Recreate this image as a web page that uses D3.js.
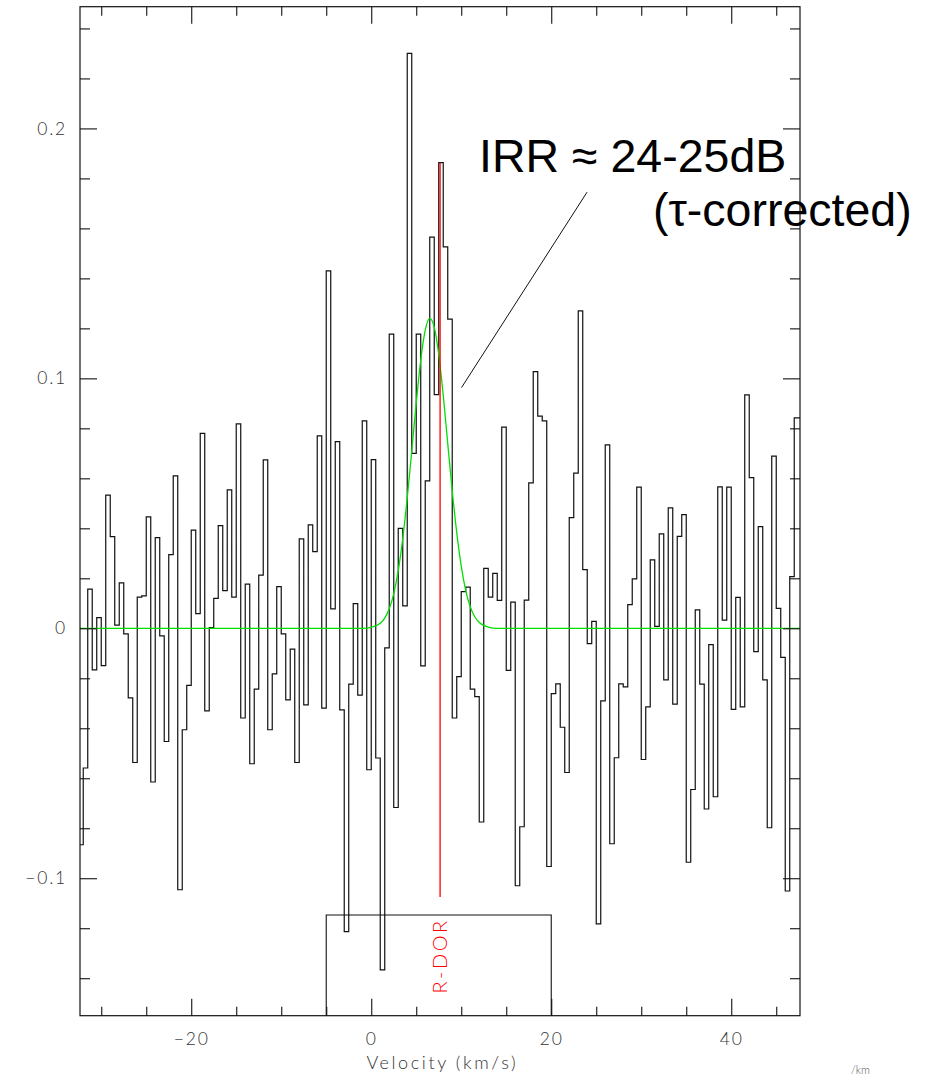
<!DOCTYPE html>
<meta charset="utf-8">
<style type="text/css">
body { margin: 0; background: #fff; }

/* spectrum drawn as a step line */
.hist { fill: none; stroke: #111; stroke-width: 1.2; }
/* gaussian fit */
.fit { fill: none; stroke: #00e000; stroke-width: 1.3; }
.marker { stroke: #ff0000; stroke-width: 1.3; }
.window { fill: none; stroke: #111; stroke-width: 1.1; }
.frame { fill: none; stroke: #111; stroke-width: 1.2; }
.pointer { stroke: #111; stroke-width: 1; }

.axis path { display: none; }
.axis line { stroke: #111; stroke-width: 1.1; }
.axis text, .xlabel, .units {
  font-family: Lato, "Open Sans", sans-serif;
  font-weight: 300;
  font-size: 17.5px;
  fill: #333;
  letter-spacing: 1.8px;
}
.xlabel { font-size: 18px; letter-spacing: 2.6px; }
.units { font-size: 11px; fill: #555; letter-spacing: 0; }
.srcname {
  font-family: Lato, "Open Sans", sans-serif;
  font-weight: 300;
  font-size: 20px;
  fill: #ff0000;
  letter-spacing: 2.5px;
}
.note { font-family: "Liberation Sans", Arial, sans-serif; font-size: 46.5px; fill: #000; }
</style>
<body>
<script src="https://d3js.org/d3.v7.min.js"></script>
<script>

// channel values (antenna temperature), one per 0.5 km/s channel,
// first channel starts at -32.5 km/s (cut by the left frame)
var firstChannelEdge = -32.5;
var channelWidth = 0.5;
var channelValues = [
  -0.0866, -0.0559, 0.0157, -0.0166, 0.0043, -0.0149, 0.0533, 0.0367, 0.0013, 0.0182,
  -0.0022, -0.0278, -0.0537, 0.0125, 0.0130, 0.0446, -0.0615, 0.0363, -0.0030, -0.0453,
  0.0295, 0.0610, -0.1046, -0.0406, -0.0228, 0.0393, 0.0059, 0.0780, -0.0330, 0.0003,
  0.0120, 0.0411, 0.0151, 0.0554, 0.0125, 0.0818, -0.0359, 0.0177, -0.0542, -0.0243,
  0.0213, 0.0674, -0.0406, -0.0182, 0.0167, -0.0022, -0.0286, -0.0083, -0.0537, 0.0358,
  -0.0306, 0.0414, 0.0307, 0.0770, -0.0319, 0.1430, 0.0078, 0.0747, -0.0326, -0.1214,
  -0.0223, 0.0099, -0.0267, 0.0830, -0.0566, 0.0675, -0.0519, -0.1367, -0.0078, 0.1177,
  -0.0717, 0.0400, 0.0090, 0.2300, 0.0700, 0.1177, -0.0150, 0.0590, 0.1565, 0.0935,
  0.1863, 0.1526, 0.1237, -0.0359, -0.0193, 0.0147, 0.0165, -0.0243, -0.0273, -0.0775,
  0.0240, 0.0125, 0.0220, 0.0112, 0.0805, -0.0168, 0.0105, -0.1030, -0.0794, 0.0113,
  0.0582, 0.1027, 0.0849, 0.0830, -0.0953, -0.0261, -0.0222, -0.0396, -0.0577, 0.0443,
  0.0621, 0.1270, 0.0235, -0.0061, 0.0028, -0.1183, -0.0290, 0.0734, -0.0862, -0.0518,
  -0.0222, -0.0234, 0.0095, 0.0198, 0.0565, -0.0525, -0.0314, 0.0274, 0.0008, 0.0378,
  -0.0206, 0.0482, -0.0303, 0.0368, 0.0455, -0.0936, -0.0645, 0.0074, -0.0223, -0.0723,
  -0.0065, -0.0674, 0.0566, 0.0033, 0.0565, -0.0324, 0.0124, -0.0314, 0.0934, 0.0603,
  -0.0093, 0.0407, -0.0206, -0.0798, 0.0689, 0.0080, -0.0116, -0.1051, 0.0207, 0.0842
];

// gaussian fit
var fitVelocity = [-32.36, -1, 0, 1, 1.5, 2, 2.5, 3, 3.5, 4, 4.5, 5, 5.5, 6, 6.5, 7, 7.5,
                   8, 8.5, 9, 9.5, 10, 10.5, 11, 11.5, 12, 13, 14, 47.64];
var fitValue = [0, 0, 0.0004, 0.002, 0.0041, 0.0078, 0.0139, 0.0231, 0.0359, 0.0522, 0.0709,
                0.0902, 0.1073, 0.1193, 0.124, 0.1205, 0.1096, 0.0932, 0.074, 0.055, 0.0383,
                0.0249, 0.0151, 0.0086, 0.0046, 0.0023, 0.0005, 0, 0];

// source marker and line window
var sourceName = "R-DOR";
var sourceVelocity = 7.65;
var markerRange = [-0.1075, 0.1863];
var windowRange = [-5, 20];
var windowTop = -0.1147;

// axes
var xDomain = [-32.36, 47.64];
var yDomain = [-0.155, 0.2487];
var xMajorTicks = [-20, 0, 20, 40];
var xMinorTicks = [-30, -25, -15, -10, -5, 5, 10, 15, 25, 30, 35, 45];
var yMajorTicks = [-0.1, 0, 0.1, 0.2];
var yMinorTicks = [-0.14, -0.12, -0.08, -0.06, -0.04, -0.02, 0.02, 0.04, 0.06, 0.08,
                   0.12, 0.14, 0.16, 0.18, 0.22, 0.24];
var xTitle = "Velocity (km/s)";

// annotation (in data units)
var noteLine1 = "IRR \u2248 24-25dB";
var noteLine2 = "(\u03c4-corrected)";
var note1Pos = [11.98, 0.1825];
var note2Pos = [31.31, 0.1609];
var pointerFrom = [23.98, 0.1745];
var pointerTo = [10.03, 0.0963];

var margin = {top: 6.7, right: 139, bottom: 60.3, left: 80},
    width = 939 - margin.left - margin.right,
    height = 1076 - margin.top - margin.bottom;

var x = d3.scaleLinear().domain(xDomain).range([0, width]);
var y = d3.scaleLinear().domain(yDomain).range([height, 0]);

var svg = d3.select("body").append("svg")
    .attr("width", 939)
    .attr("height", 1076)
  .append("g")
    .attr("transform", "translate(" + margin.left + "," + margin.top + ")");

svg.append("clipPath").attr("id", "plotclip")
  .append("rect").attr("width", width).attr("height", height);

var plot = svg.append("g").attr("clip-path", "url(#plotclip)");

// step points: one per channel left edge, last level runs to the frame
var steps = channelValues.map(function(v, i) {
  return {v: firstChannelEdge + i * channelWidth, t: v};
});
steps.push({v: xDomain[1], t: channelValues[channelValues.length - 1]});

var stepLine = d3.line()
    .x(function(d) { return x(d.v); })
    .y(function(d) { return y(d.t); })
    .curve(d3.curveStepAfter);

plot.append("path").datum(steps).attr("class", "hist").attr("d", stepLine);

var fitPoints = fitVelocity.map(function(v, i) { return {v: v, t: fitValue[i]}; });
plot.append("path").datum(fitPoints).attr("class", "fit")
    .attr("d", d3.line()
      .x(function(d) { return x(d.v); })
      .y(function(d) { return y(d.t); })
      .curve(d3.curveMonotoneX));

plot.append("line").attr("class", "marker")
    .attr("x1", x(sourceVelocity)).attr("x2", x(sourceVelocity))
    .attr("y1", y(markerRange[0])).attr("y2", y(markerRange[1]));

plot.append("path").attr("class", "window")
    .attr("d", d3.line()([
      [x(windowRange[0]), height], [x(windowRange[0]), y(windowTop)],
      [x(windowRange[1]), y(windowTop)], [x(windowRange[1]), height]
    ]));

// source name, rotated, under the marker
svg.append("text").attr("class", "srcname")
    .attr("transform", "translate(" + (x(sourceVelocity) + 6.5) + "," + (y(windowTop) + 41) + ") rotate(-90)")
    .attr("text-anchor", "middle")
    .text(sourceName);

// ticks on all four sides, pointing inwards
function fmtY(d) { return d === 0 ? "0" : d3.format(".1f")(d); }

svg.append("g").attr("class", "axis").attr("transform", "translate(0," + height + ")")
    .call(d3.axisBottom(x).tickValues(xMinorTicks).tickSize(-9).tickFormat(""));
svg.append("g").attr("class", "axis").attr("transform", "translate(0," + height + ")")
    .call(d3.axisBottom(x).tickValues(xMajorTicks).tickSize(-17).tickPadding(17));
svg.append("g").attr("class", "axis")
    .call(d3.axisTop(x).tickValues(xMinorTicks).tickSize(-9).tickFormat(""));
svg.append("g").attr("class", "axis")
    .call(d3.axisTop(x).tickValues(xMajorTicks).tickSize(-17).tickFormat(""));

svg.append("g").attr("class", "axis")
    .call(d3.axisLeft(y).tickValues(yMinorTicks).tickSize(-10).tickFormat(""));
svg.append("g").attr("class", "axis")
    .call(d3.axisLeft(y).tickValues(yMajorTicks).tickSize(-17).tickPadding(13).tickFormat(fmtY));
svg.append("g").attr("class", "axis").attr("transform", "translate(" + width + ",0)")
    .call(d3.axisRight(y).tickValues(yMinorTicks).tickSize(-10).tickFormat(""));
svg.append("g").attr("class", "axis").attr("transform", "translate(" + width + ",0)")
    .call(d3.axisRight(y).tickValues(yMajorTicks).tickSize(-17).tickFormat(""));

svg.append("rect").attr("class", "frame").attr("width", width).attr("height", height);

svg.append("text").attr("class", "xlabel")
    .attr("x", x(7.9)).attr("y", height + 53)
    .attr("text-anchor", "middle")
    .text(xTitle);

svg.append("text").attr("class", "units")
    .attr("x", width + 51).attr("y", height + 58)
    .text("/km");

// annotation
svg.append("line").attr("class", "pointer")
    .attr("x1", x(pointerFrom[0])).attr("y1", y(pointerFrom[1]))
    .attr("x2", x(pointerTo[0])).attr("y2", y(pointerTo[1]));
svg.append("text").attr("class", "note")
    .attr("x", x(note1Pos[0])).attr("y", y(note1Pos[1]))
    .text(noteLine1);
svg.append("text").attr("class", "note")
    .attr("x", x(note2Pos[0])).attr("y", y(note2Pos[1]))
    .text(noteLine2);

</script>
</body>
